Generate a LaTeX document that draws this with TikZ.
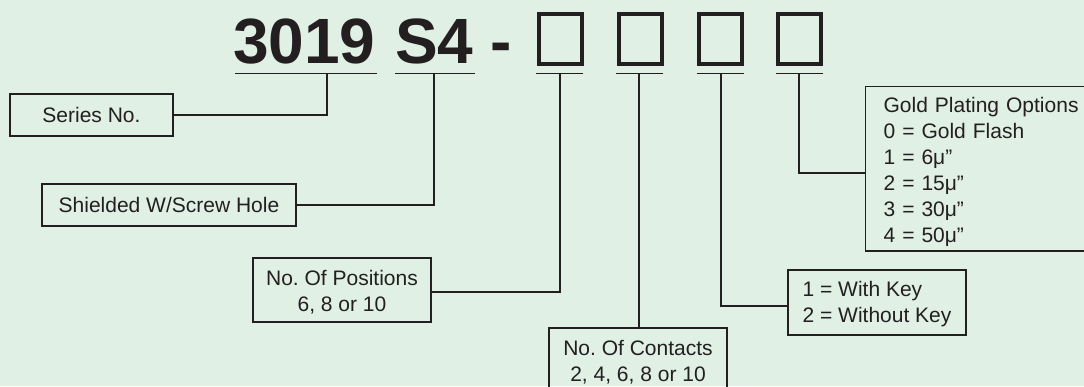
\documentclass[tikz,border=0pt]{standalone}
\usepackage{fontspec}
\setmainfont{Liberation Sans}
\definecolor{bg}{RGB}{224,240,229}
\definecolor{ink}{RGB}{35,31,32}
\frenchspacing
\begin{document}
\frenchspacing
\begin{tikzpicture}[x=1pt,y=-1pt,
  lbl/.style={draw=ink, line width=1.6pt, text=ink, font=\fontsize{21}{26}\selectfont, inner sep=0pt, align=center},
  conn/.style={draw=ink, line width=1.6pt},
  ubar/.style={draw=ink, line width=1.8pt},
  slot/.style={draw=ink, line width=4pt, minimum width=43pt, minimum height=50pt, inner sep=0pt},
  big/.style={text=ink, font=\fontsize{64}{70}\selectfont\bfseries, inner sep=0pt, anchor=base west}]
\fill[bg] (0,0) rectangle (1084,386);
\useasboundingbox (0,0) rectangle (1084,386);
\clip (0,0) rectangle (1084,386);

% title
\node[big] (t3019) at (233,63) {3019};
\node[big] (ts4) at (395,63) {S4};
\node[big] (tdash) at (490,63) {-};
\node[slot] (s1) at (560.5,39) {};
\node[slot] (s2) at (640,39) {};
\node[slot] (s3) at (720.5,39) {};
\node[slot] (s4) at (799.5,39) {};

% underlines and tap points
\coordinate (a0) at (235,73.5); \coordinate (b0) at (377,73.5);
\coordinate (a1) at (395,73.5); \coordinate (b1) at (475,73.5);
\coordinate (a2) at (536,73.5); \coordinate (b2) at (583,73.5);
\coordinate (a3) at (616,73.5); \coordinate (b3) at (663,73.5);
\coordinate (a4) at (697,73.5); \coordinate (b4) at (744,73.5);
\coordinate (a5) at (776,73.5); \coordinate (b5) at (823,73.5);
\draw[ubar] (a0) -- (b0);
\draw[ubar] (a1) -- (b1);
\draw[ubar] (a2) -- (b2);
\draw[ubar] (a3) -- (b3);
\draw[ubar] (a4) -- (b4);
\draw[ubar] (a5) -- (b5);
\coordinate (u0) at (327,73.5);
\coordinate (u1) at (434,73.5);
\coordinate (u2) at (560,73.5);
\coordinate (u3) at (639,73.5);
\coordinate (u4) at (721,73.5);
\coordinate (u5) at (799,73.5);

% labels
\node[lbl, minimum width=163.4pt, minimum height=42.4pt] (series) at (91.5,115) {Series No.};
\node[lbl, minimum width=254.4pt, minimum height=42.4pt] (shield) at (169,205) {Shielded W/Screw Hole};
\node[lbl, minimum width=178.4pt, minimum height=64.4pt] (pos) at (342,290) {\rule{0pt}{20pt}No. Of Positions\\6, 8 or 10};
\node[lbl, minimum width=178.4pt, minimum height=68.4pt] (cont) at (638,362) {No. Of Contacts\\2, 4, 6, 8 or 10};
\node[lbl, align=left, minimum width=178.4pt, minimum height=65.4pt] (key) at (877,302.5) {\rule{0pt}{19pt}1 = With Key\\2 = Without Key};
\node[lbl, align=left, text width=200pt, inner xsep=18pt, minimum height=164.4pt, anchor=north west] (gold) at (864.8,85.8)
  {\rule{0pt}{20.5pt}Gold Plating Options\\0 = Gold Flash\\1 = 6μ”\\2 = 15μ”\\3 = 30μ”\\4 = 50μ”};

% connectors
\draw[conn] (series.east) -| (u0);
\draw[conn] (shield.east) -| (u1);
\draw[conn] ([yshift=-2pt]pos.east) -| (u2);
\draw[conn] (u3) -- (u3 |- cont.north);
\draw[conn] ([yshift=-3.5pt]key.west) -| (u4);
\draw[conn] ([yshift=-4pt]gold.west) -| (u5);
\end{tikzpicture}
\end{document}
